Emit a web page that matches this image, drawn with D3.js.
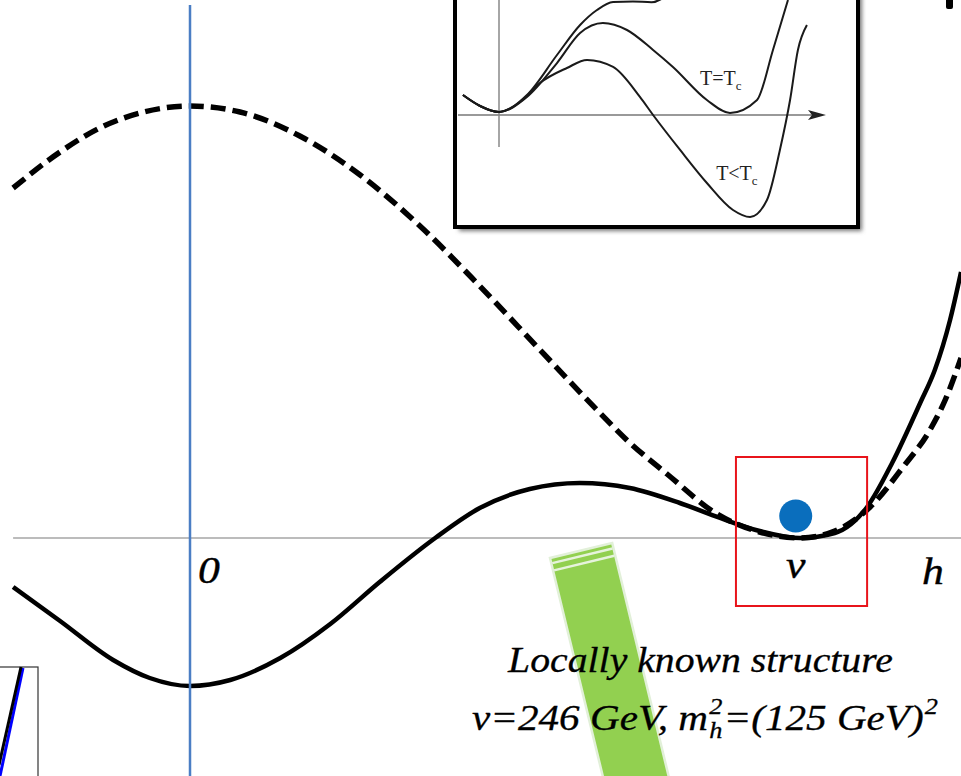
<!DOCTYPE html>
<html><head><meta charset="utf-8">
<script src="https://cdn.jsdelivr.net/npm/d3@7"></script>
<style>html,body{margin:0;padding:0;background:#fff;overflow:hidden}</style>
</head><body><svg id="c" width="961" height="776"></svg>
<script>
// ---- main potential curves (h in units of v, V in arbitrary units) ----
const hSolid = [-0.290,-0.213,-0.126,-0.066,0,0.066,0.148,0.230,0.311,0.402,0.475,0.557,0.639,0.721,0.803,0.869,0.934,1,1.057,1.110,1.151,1.197,1.221,1.246,1.264];
const vSolid = [-0.49,-0.83,-1.22,-1.40,-1.48,-1.42,-1.20,-0.86,-0.44,0,0.30,0.49,0.55,0.50,0.35,0.20,0.07,0,0.05,0.31,0.75,1.35,1.68,2.18,2.66];
const hDashed = [-0.290,-0.213,-0.148,-0.082,0,0.082,0.180,0.279,0.377,0.475,0.574,0.672,0.716,0.782,0.864,0.934,1,1.057,1.115,1.169,1.213,1.238,1.264];
const vDashed = [3.50,3.86,4.10,4.25,4.32,4.26,4.02,3.63,3.12,2.52,1.88,1.25,0.98,0.64,0.24,0.06,0,0.07,0.31,0.71,1.08,1.38,1.80];
const axisLabels = ["0","v","h"];
const axisLabelH = [0.013,0.977,1.2];
const textLine1 = "Locally known structure";
const textLine2 = ["v=246 GeV, m","2","h","=(125 GeV)","2"];

// ---- inset curves ----
const phiTc = [-0.156,-0.082,0,0.121,0.251,0.351,0.450,0.554,0.667,0.753,0.900,1.0,1.117,1.186,1.251];
const vTc = [0.217,0.098,0.033,0.196,0.565,0.891,1.0,0.924,0.707,0.522,0.163,0.022,0.163,0.707,1.25];
const phiBelow = [-0.156,-0.082,0,0.091,0.177,0.294,0.381,0.494,0.610,0.667,0.784,0.900,1.013,1.087,1.160,1.216,1.260,1.294,1.333];
const vBelow = [0.217,0.098,0.033,0.141,0.348,0.511,0.598,0.522,0.196,0,-0.380,-0.739,-1.033,-1.109,-0.924,-0.380,0.163,0.707,0.978];
const phiAbove = [-0.156,-0.082,0,0.121,0.251,0.351,0.424,0.494,0.58,0.66,0.74];
const vAbove = [0.217,0.098,0.033,0.217,0.652,0.978,1.141,1.228,1.235,1.225,1.33];
const insetLabels = ["T=T","T<T"];
const insetLabelPhi = [0.87,0.94];
const insetLabelV = [0.33,-0.71];

const svg = d3.select("#c");
const serif = "'Liberation Serif','Times New Roman',serif";

const x = d3.scaleLinear().domain([0,1]).range([190,800]);
const y = d3.scaleLinear().domain([0,1]).range([538,438]);

// axis
svg.append("line").attr("x1",x(-0.29)).attr("x2",961).attr("y1",y(0)).attr("y2",y(0))
  .attr("stroke","#a6a6a6").attr("stroke-width",1.5);

const line = d3.line().x(d=>x(d[0])).y(d=>y(d[1])).curve(d3.curveMonotoneX);
svg.append("path").datum(d3.zip(hDashed,vDashed)).attr("d",line)
  .attr("fill","none").attr("stroke","#000").attr("stroke-width",5.5).attr("stroke-dasharray","15,7");
svg.append("path").datum(d3.zip(hSolid,vSolid)).attr("d",line)
  .attr("fill","none").attr("stroke","#000").attr("stroke-width",4.5);

// blue vertical axis
svg.append("line").attr("x1",x(0)).attr("x2",x(0)).attr("y1",5).attr("y2",776)
  .attr("stroke","#4a7ec4").attr("stroke-width",2.5);

// red box and ball
svg.append("rect").attr("x",x(0.895)).attr("y",y(0.81)).attr("width",x(1.11)-x(0.895)).attr("height",y(-0.68)-y(0.81))
  .attr("fill","none").attr("stroke","#e8141b").attr("stroke-width",2);
svg.append("circle").attr("cx",x(0.993)).attr("cy",y(0.22)).attr("r",16.5).attr("fill","#0a6ebd");

// green bar
const gb = svg.append("g").attr("transform","translate(550,558) rotate(-13.6)");
gb.append("rect").attr("x",0).attr("y",0).attr("width",64).attr("height",260)
  .attr("fill","#92d050").attr("stroke","#e2f0d9").attr("stroke-width",2.5);
[5.5,13].forEach(o=>gb.append("line").attr("x1",1).attr("x2",63).attr("y1",o).attr("y2",o)
  .attr("stroke","#e6f3dc").attr("stroke-width",2.5));

// axis labels
axisLabels.forEach((t,i)=>{
  const px = x(axisLabelH[i]), py = i===0?583:(i===1?578:584);
  svg.append("text").attr("transform",`translate(${px},${py}) scale(1.15,1)`)
    .attr("font-family",serif).attr("font-style","italic").attr("font-size",38).attr("fill","#000")
    .attr("stroke","#000").attr("stroke-width",0.4).text(t);
});

// text block
function stretch(g, x0, targetW){
  const b = g.node().getBBox();
  const s = targetW / b.width;
  g.attr("transform",`translate(${x0},0) scale(${s},1) translate(${-b.x},0)`);
}
function txt(g, xx, yy, size, s){
  return g.append("text").attr("x",xx).attr("y",yy).attr("font-family",serif).attr("font-style","italic")
    .attr("font-size",size).attr("fill","#000").attr("stroke","#000").attr("stroke-width",0.3).text(s);
}
const g1 = svg.append("g");
txt(g1,0,672,36,textLine1);
stretch(g1,507,386);

const g2 = svg.append("g");
let cx = 0;
const base = 730;
const t0 = txt(g2,cx,base,36,textLine2[0]);
cx += t0.node().getComputedTextLength() + 1;
const sp = txt(g2,cx,base-16,23,textLine2[1]);
const sb = txt(g2,cx,base+8,23,textLine2[2]);
cx += Math.max(sp.node().getComputedTextLength(), sb.node().getComputedTextLength()) + 1;
const t3 = txt(g2,cx,base,36,textLine2[3]);
cx += t3.node().getComputedTextLength() + 1;
txt(g2,cx,base-16,23,textLine2[4]);
stretch(g2,472,466);

// ---- inset ----
const defs = svg.append("defs");
defs.append("filter").attr("id","blur").attr("x","-10%").attr("y","-10%").attr("width","120%").attr("height","120%")
  .append("feGaussianBlur").attr("stdDeviation",2.2);
const ig = svg.append("g");
ig.append("rect").attr("x",459).attr("y",-10).attr("width",403).attr("height",241).attr("fill","#777").attr("filter","url(#blur)");
ig.append("rect").attr("x",455).attr("y",-10).attr("width",403).attr("height",237).attr("fill","#fff").attr("stroke","#000").attr("stroke-width",4);

const ix = d3.scaleLinear().domain([0,1]).range([499,730]);
const iy = d3.scaleLinear().domain([0,1]).range([115,23]);
ig.append("line").attr("x1",458).attr("x2",812).attr("y1",iy(0)).attr("y2",iy(0)).attr("stroke","#777").attr("stroke-width",1.5);
ig.append("path").attr("d",`M${808},${iy(0)-5} L${826},${iy(0)} L${808},${iy(0)+5} L${812},${iy(0)} Z`).attr("fill","#222");
ig.append("line").attr("x1",ix(0)).attr("x2",ix(0)).attr("y1",-5).attr("y2",147).attr("stroke","#888").attr("stroke-width",1.5);

const iline = d3.line().x(d=>ix(d[0])).y(d=>iy(d[1])).curve(d3.curveMonotoneX);
[[phiTc,vTc],[phiBelow,vBelow],[phiAbove,vAbove]].forEach(([p,v])=>{
  ig.append("path").datum(d3.zip(p,v)).attr("d",iline).attr("fill","none").attr("stroke","#1a1a1a").attr("stroke-width",2);
});
insetLabels.forEach((t,i)=>{
  const tx = ig.append("text").attr("x",ix(insetLabelPhi[i])).attr("y",iy(insetLabelV[i]))
    .attr("font-family",serif).attr("font-size",20).attr("fill","#222");
  tx.append("tspan").text(t);
  tx.append("tspan").attr("font-size",13).attr("dy",5).text("c");
});

// small black mark top-right
svg.append("rect").attr("x",946).attr("y",-4).attr("width",7).attr("height",13).attr("rx",2).attr("fill","#000");

// bottom-left partial box
svg.append("rect").attr("x",-5).attr("y",667).attr("width",43).attr("height",130).attr("fill","#fff").attr("stroke","#333").attr("stroke-width",1.2);
svg.append("line").attr("x1",23).attr("y1",668).attr("x2",0).attr("y2",776).attr("stroke","#0000ff").attr("stroke-width",3);
svg.append("line").attr("x1",21).attr("y1",667).attr("x2",-1).attr("y2",765).attr("stroke","#000").attr("stroke-width",3);
</script>
</body></html>
